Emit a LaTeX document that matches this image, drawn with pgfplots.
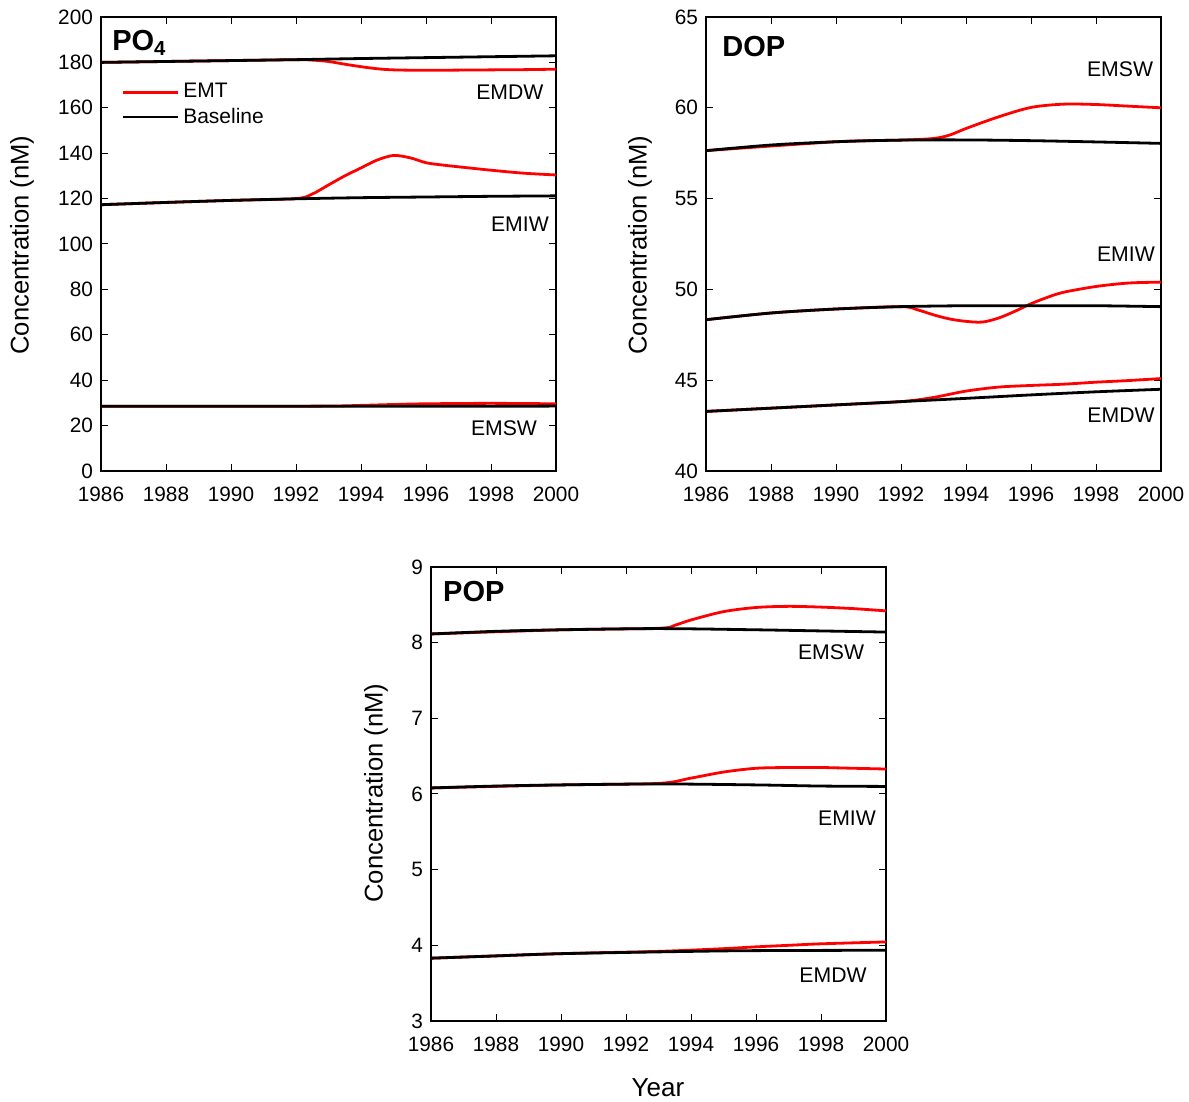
\documentclass[border=0pt]{standalone}
\usepackage{pgfplots}
\pgfplotsset{compat=1.18}
\usepackage{fontspec}
\setmainfont{Liberation Sans}
\definecolor{emtred}{RGB}{255,0,0}
\pgfplotsset{
  panel/.style={
    scale only axis, width=227.5pt, height=227pt,
    xmin=1986, xmax=2000, xtick={1986,1988,...,2000},
    tick align=inside, major tick length=3.5pt,
    /pgf/number format/assume math mode=true,
    /pgf/number format/1000 sep={},
    ticklabel style={font=\fontsize{10.4}{12}\selectfont},
    xticklabel style={yshift=-4.5pt},
    yticklabel style={xshift=-0.5pt},
    axis line style={line width=0.6pt},
    every tick/.style={black, line width=0.5pt},
    clip=false,
  },
}
\tikzset{
  emt/.style={emtred, line width=1.4pt, smooth},
  base/.style={black, line width=1.4pt, smooth},
  lab/.style={font=\fontsize{10.6}{12}\selectfont},
  ttl/.style={font=\fontsize{14.5}{16}\selectfont\bfseries, anchor=north west, inner sep=0pt},
}
\begin{document}
\begin{tikzpicture}
\useasboundingbox (0,0) rectangle (594.5pt,551pt);
% ---------------- PO4 ----------------
\begin{axis}[panel, at={(50.5pt,315.5pt)}, anchor=south west,
  ymin=0, ymax=200, ytick={0,20,...,200},
  legend style={at={(rel axis cs:0.031,0.872)}, anchor=north west, draw=none, fill=none,
    font=\fontsize{10.5}{12}\selectfont, row sep=-0.5pt},
  legend cell align=left,
  legend image code/.code={\draw[#1] (0pt,0pt) -- (25.5pt,0pt); \path (0pt,0pt) -- (27.5pt,0pt);}]
\addplot[emt] coordinates {(1986,180.0) (1988,180.4) (1990,180.8) (1992,181.2) (1992.5,181.0) (1993,180.4) (1993.5,179.2) (1994,178.1) (1994.5,177.2) (1995,176.7) (1996,176.5) (1997,176.6) (1998,176.7) (1999,176.8) (2000,177.0)};
\addlegendentry{EMT}
\addplot[base] coordinates {(1986,180.0) (1988,180.4) (1990,180.8) (1992,181.2) (1994,181.7) (1996,182.1) (1998,182.5) (2000,182.9)};
\addlegendentry{Baseline}
\addplot[emt, forget plot] coordinates {(1986,117.3) (1988,118.3) (1990,119.2) (1992,120.0) (1992.5,122.0) (1993,126.0) (1993.5,130.0) (1994,133.5) (1994.5,137.0) (1995,139.0) (1995.5,138.0) (1996,135.8) (1996.5,134.8) (1997,134.0) (1998,132.5) (1999,131.2) (2000,130.4)};
\addplot[base, forget plot] coordinates {(1986,117.3) (1988,118.3) (1990,119.2) (1992,119.9) (1994,120.4) (1996,120.7) (1998,121.0) (2000,121.2)};
\addplot[emt, forget plot] coordinates {(1986,28.5) (1990,28.5) (1993,28.6) (1994,28.9) (1995,29.3) (1996,29.6) (1998,29.8) (2000,29.6)};
\addplot[base, forget plot] coordinates {(1986,28.5) (1990,28.5) (1994,28.5) (1998,28.5) (2000,28.6)};
\node[ttl] at (rel axis cs:0.024,0.971) {PO\textsubscript{4}};
\node[lab] at (axis cs:1998.58,167.0) {EMDW};
\node[lab] at (axis cs:1998.89,108.8) {EMIW};
\node[lab] at (axis cs:1998.40,18.9) {EMSW};
\end{axis}
% ---------------- DOP ----------------
\begin{axis}[panel, at={(353pt,315.5pt)}, anchor=south west,
  ymin=40, ymax=65, ytick={40,45,...,65}]
\addplot[emt] coordinates {(1986,57.64) (1990,58.13) (1992,58.22) (1993,58.31) (1993.5,58.5) (1994,58.86) (1995,59.5) (1996,60.02) (1997,60.2) (1998,60.18) (1999,60.09) (2000,60.0)};
\addplot[base] coordinates {(1986,57.64) (1988,57.95) (1990,58.13) (1992,58.22) (1994,58.23) (1996,58.19) (1998,58.12) (2000,58.04)};
\addplot[emt] coordinates {(1986,48.33) (1988,48.7) (1990,48.92) (1992,49.05) (1992.5,48.88) (1993,48.6) (1993.5,48.37) (1994,48.24) (1994.5,48.2) (1995,48.42) (1995.5,48.79) (1996,49.21) (1996.5,49.56) (1997,49.84) (1998,50.16) (1999,50.35) (2000,50.4)};
\addplot[base] coordinates {(1986,48.33) (1988,48.7) (1990,48.92) (1992,49.05) (1994,49.1) (1996,49.1) (1998,49.1) (2000,49.05)};
\addplot[emt] coordinates {(1986,43.28) (1990,43.64) (1992,43.82) (1993,44.05) (1994,44.4) (1995,44.62) (1996,44.71) (1997,44.78) (1998,44.89) (1999,44.98) (2000,45.09)};
\addplot[base] coordinates {(1986,43.28) (1988,43.46) (1990,43.64) (1992,43.82) (1994,44.0) (1996,44.19) (1998,44.36) (2000,44.5)};
\node[ttl] at (rel axis cs:0.035,0.958) {DOP};
\node[lab] at (axis cs:1998.74,62.14) {EMSW};
\node[lab] at (axis cs:1998.92,51.95) {EMIW};
\node[lab] at (axis cs:1998.77,43.08) {EMDW};
\end{axis}
% ---------------- POP ----------------
\begin{axis}[panel, at={(215.5pt,40.5pt)}, anchor=south west,
  ymin=3, ymax=9, ytick={3,4,...,9}]
\addplot[emt] coordinates {(1986,8.115) (1990,8.17) (1993,8.19) (1993.5,8.23) (1994,8.30) (1995,8.41) (1996,8.465) (1997,8.48) (1998,8.47) (1999,8.45) (2000,8.42)};
\addplot[base] coordinates {(1986,8.115) (1988,8.15) (1990,8.17) (1993,8.186) (1996,8.17) (1998,8.155) (2000,8.14)};
\addplot[emt] coordinates {(1986,6.08) (1990,6.12) (1993,6.14) (1994,6.21) (1995,6.29) (1996,6.34) (1997,6.35) (1998,6.35) (1999,6.34) (2000,6.33)};
\addplot[base] coordinates {(1986,6.08) (1988,6.105) (1990,6.12) (1993,6.133) (1996,6.12) (1998,6.105) (2000,6.10)};
\addplot[emt] coordinates {(1986,3.83) (1990,3.89) (1993,3.92) (1995,3.956) (1996,3.98) (1997,4.0) (1998,4.02) (2000,4.045)};
\addplot[base] coordinates {(1986,3.83) (1988,3.86) (1990,3.89) (1994,3.92) (1996,3.93) (2000,3.935)};
\node[ttl] at (rel axis cs:0.026,0.969) {POP};
\node[lab] at (axis cs:1998.31,7.88) {EMSW};
\node[lab] at (axis cs:1998.80,5.68) {EMIW};
\node[lab] at (axis cs:1998.37,3.61) {EMDW};
\end{axis}
% axis labels
\node[rotate=90, font=\fontsize{12.8}{14}\selectfont] at (11pt,428.5pt) {Concentration (nM)};
\node[rotate=90, font=\fontsize{12.8}{14}\selectfont] at (320pt,428.5pt) {Concentration (nM)};
\node[rotate=90, font=\fontsize{12.8}{14}\selectfont] at (188pt,154.5pt) {Concentration (nM)};
\node[font=\fontsize{13}{14}\selectfont] at (329pt,7pt) {Year};
\end{tikzpicture}
\end{document}
